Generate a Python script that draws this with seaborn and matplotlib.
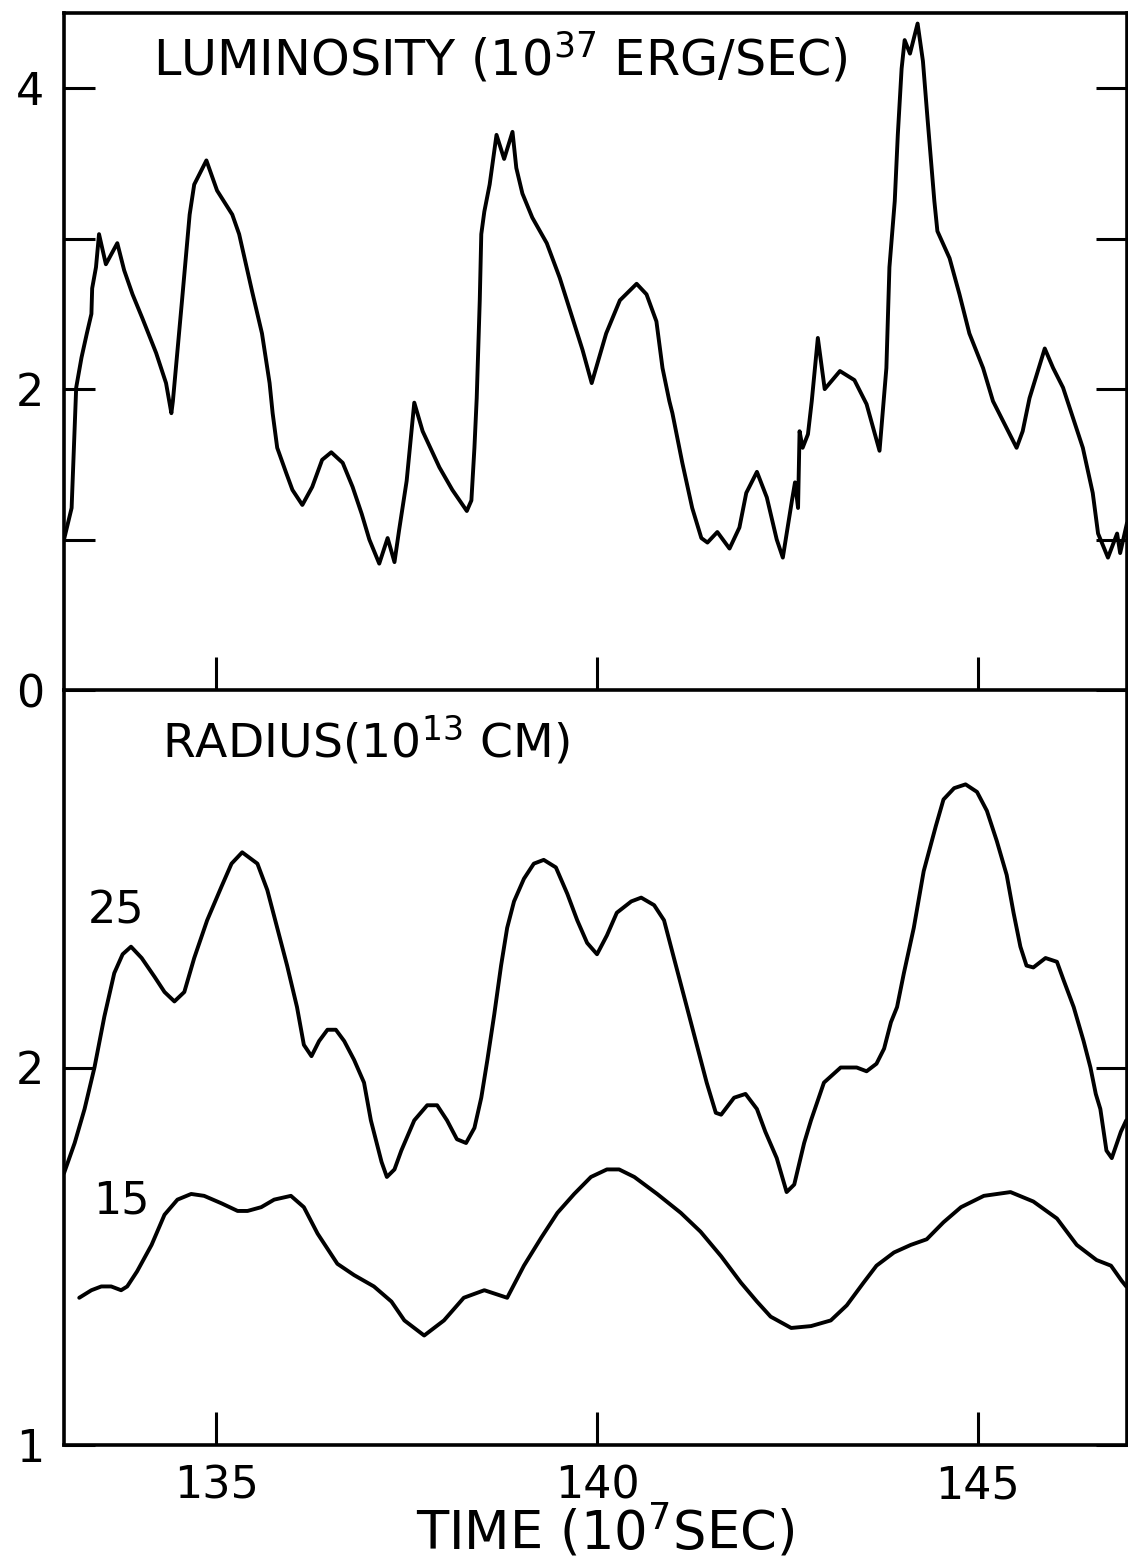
import matplotlib
matplotlib.use("Agg")
import matplotlib.pyplot as plt
import pandas as pd
import seaborn as sns

# Luminosity (10^37 erg/s) against time (10^7 s)
lum_points = [
    (133.00, 1.00), (133.10, 1.21), (133.16, 2.01), (133.23, 2.21), (133.30, 2.37),
    (133.36, 2.50), (133.37, 2.67), (133.42, 2.81), (133.46, 3.03), (133.55, 2.83),
    (133.70, 2.97), (133.79, 2.79), (133.90, 2.63), (134.03, 2.47), (134.21, 2.24),
    (134.34, 2.04), (134.41, 1.84), (134.43, 1.92), (134.55, 2.59), (134.65, 3.16),
    (134.71, 3.36), (134.87, 3.52), (135.01, 3.32), (135.21, 3.16), (135.30, 3.03),
    (135.47, 2.65), (135.60, 2.37), (135.70, 2.04), (135.74, 1.84), (135.80, 1.61),
    (135.92, 1.44), (136.00, 1.33), (136.13, 1.23), (136.26, 1.35), (136.39, 1.53),
    (136.51, 1.58), (136.66, 1.51), (136.79, 1.35), (136.91, 1.17), (137.01, 1.00),
    (137.14, 0.84), (137.25, 1.01), (137.34, 0.85), (137.40, 1.06), (137.50, 1.39),
    (137.60, 1.91), (137.71, 1.72), (137.93, 1.48), (138.10, 1.33), (138.29, 1.19),
    (138.35, 1.26), (138.39, 1.61), (138.42, 1.94), (138.46, 2.59), (138.48, 3.03),
    (138.52, 3.18), (138.59, 3.36), (138.68, 3.69), (138.78, 3.53), (138.89, 3.71),
    (138.94, 3.47), (139.02, 3.30), (139.15, 3.14), (139.34, 2.97), (139.51, 2.74),
    (139.66, 2.50), (139.81, 2.26), (139.93, 2.04), (140.12, 2.37), (140.30, 2.59),
    (140.52, 2.70), (140.65, 2.63), (140.78, 2.45), (140.86, 2.14), (140.95, 1.92),
    (140.99, 1.84), (141.12, 1.51), (141.25, 1.21), (141.37, 1.01), (141.45, 0.98),
    (141.58, 1.05), (141.74, 0.94), (141.87, 1.08), (141.96, 1.31), (142.10, 1.45),
    (142.23, 1.28), (142.36, 1.00), (142.44, 0.88), (142.56, 1.26), (142.60, 1.38),
    (142.64, 1.21), (142.66, 1.72), (142.70, 1.61), (142.77, 1.70), (142.82, 1.92),
    (142.90, 2.34), (142.99, 2.00), (143.19, 2.12), (143.38, 2.06), (143.54, 1.90),
    (143.71, 1.59), (143.80, 2.14), (143.84, 2.81), (143.91, 3.25), (143.95, 3.69),
    (144.00, 4.13), (144.04, 4.32), (144.11, 4.23), (144.21, 4.43), (144.28, 4.18),
    (144.34, 3.80), (144.43, 3.25), (144.47, 3.05), (144.63, 2.87), (144.76, 2.63),
    (144.89, 2.37), (145.07, 2.14), (145.20, 1.92), (145.33, 1.79), (145.51, 1.61),
    (145.59, 1.72), (145.68, 1.94), (145.88, 2.27), (145.99, 2.14), (146.12, 2.01),
    (146.38, 1.61), (146.51, 1.31), (146.58, 1.04), (146.71, 0.88), (146.83, 1.04),
    (146.87, 0.91), (146.96, 1.11),
]

# Radius (10^13 cm) of the zone labelled 25
r25_points = [
    (133.00, 1.72), (133.14, 1.80), (133.27, 1.89), (133.40, 2.00), (133.53, 2.135),
    (133.66, 2.25), (133.77, 2.30), (133.88, 2.32), (134.02, 2.29), (134.19, 2.24),
    (134.32, 2.20), (134.45, 2.175), (134.58, 2.20), (134.71, 2.29), (134.88, 2.39),
    (135.07, 2.48), (135.20, 2.54), (135.34, 2.57), (135.54, 2.54), (135.67, 2.47),
    (135.80, 2.37), (135.93, 2.27), (136.06, 2.16), (136.15, 2.06), (136.25, 2.03),
    (136.35, 2.07), (136.46, 2.10), (136.57, 2.10), (136.68, 2.07), (136.81, 2.02),
    (136.94, 1.96), (137.03, 1.86), (137.17, 1.75), (137.24, 1.71), (137.34, 1.73),
    (137.43, 1.78), (137.60, 1.86), (137.77, 1.90), (137.90, 1.90), (138.03, 1.86),
    (138.16, 1.81), (138.28, 1.80), (138.39, 1.84), (138.48, 1.92), (138.56, 2.02),
    (138.65, 2.14), (138.74, 2.27), (138.82, 2.37), (138.91, 2.44), (139.04, 2.50),
    (139.17, 2.54), (139.30, 2.55), (139.46, 2.53), (139.61, 2.46), (139.74, 2.39),
    (139.87, 2.33), (140.00, 2.30), (140.13, 2.35), (140.26, 2.41), (140.45, 2.44),
    (140.58, 2.45), (140.75, 2.43), (140.88, 2.39), (141.01, 2.29), (141.18, 2.16),
    (141.31, 2.06), (141.44, 1.96), (141.56, 1.88), (141.63, 1.875), (141.80, 1.92),
    (141.95, 1.93), (142.10, 1.89), (142.21, 1.83), (142.36, 1.76), (142.49, 1.67),
    (142.59, 1.69), (142.72, 1.80), (142.81, 1.86), (142.98, 1.96), (143.20, 2.00),
    (143.41, 2.00), (143.54, 1.99), (143.67, 2.01), (143.77, 2.05), (143.86, 2.12),
    (143.94, 2.16), (144.03, 2.25), (144.16, 2.37), (144.29, 2.52), (144.45, 2.64),
    (144.55, 2.71), (144.69, 2.74), (144.84, 2.75), (144.99, 2.73), (145.12, 2.68),
    (145.25, 2.60), (145.38, 2.51), (145.47, 2.41), (145.56, 2.32), (145.64, 2.27),
    (145.73, 2.265), (145.89, 2.29), (146.04, 2.28), (146.13, 2.23), (146.26, 2.16),
    (146.39, 2.07), (146.48, 2.00), (146.55, 1.93), (146.61, 1.89), (146.69, 1.78),
    (146.76, 1.76), (146.88, 1.83), (146.95, 1.86),
]

# Radius (10^13 cm) of the zone labelled 15
r15_points = [
    (133.20, 1.39), (133.36, 1.41), (133.49, 1.42), (133.62, 1.42), (133.75, 1.41),
    (133.83, 1.42), (133.96, 1.46), (134.15, 1.53), (134.32, 1.61), (134.49, 1.65),
    (134.67, 1.665), (134.84, 1.66), (135.07, 1.64), (135.28, 1.62), (135.41, 1.62),
    (135.59, 1.63), (135.76, 1.65), (135.98, 1.66), (136.15, 1.63), (136.33, 1.56),
    (136.59, 1.48), (136.81, 1.45), (137.07, 1.42), (137.30, 1.38), (137.47, 1.33),
    (137.73, 1.29), (137.99, 1.33), (138.25, 1.39), (138.52, 1.41), (138.82, 1.39),
    (139.04, 1.475), (139.27, 1.55), (139.48, 1.615), (139.70, 1.665), (139.92, 1.71),
    (140.13, 1.73), (140.29, 1.73), (140.49, 1.71), (140.79, 1.665), (141.10, 1.615),
    (141.36, 1.565), (141.63, 1.50), (141.89, 1.43), (142.10, 1.38), (142.28, 1.34),
    (142.55, 1.31), (142.81, 1.315), (143.07, 1.33), (143.28, 1.37), (143.50, 1.43),
    (143.67, 1.475), (143.90, 1.51), (144.12, 1.53), (144.33, 1.545), (144.55, 1.59),
    (144.78, 1.63), (145.08, 1.66), (145.43, 1.67), (145.73, 1.645), (146.04, 1.60),
    (146.30, 1.53), (146.56, 1.49), (146.75, 1.475), (146.89, 1.435), (146.95, 1.42),
]

time_ticks = [135, 140, 145]
time_tick_labels = ["135", "140", "145"]
lum_ticks = [0, 1, 2, 3, 4]
lum_tick_labels = ["0", "", "2", "", "4"]
rad_ticks = [1, 2]
rad_tick_labels = ["1", "2"]

sns.set_theme(style="ticks")
plt.rcParams["font.family"] = ["DejaVu Sans"]
plt.rcParams["mathtext.fontset"] = "dejavusans"
plt.rcParams["lines.solid_joinstyle"] = "round"
plt.rcParams["lines.solid_capstyle"] = "round"

W, H = 1128, 1567
fig = plt.figure(figsize=(W / 100, H / 100), dpi=100)
fig.patch.set_facecolor("white")


def box(x0, y0, x1, y1):
    return [x0 / W, 1 - y1 / H, (x1 - x0) / W, (y1 - y0) / H]


ax_lum = fig.add_axes(box(64, 13, 1127, 690))
ax_rad = fig.add_axes(box(64, 690, 1127, 1445), sharex=ax_lum)
ax_rad.patch.set_visible(False)

lum_df = pd.DataFrame(lum_points, columns=["time", "value"])
r25_df = pd.DataFrame(r25_points, columns=["time", "value"])
r15_df = pd.DataFrame(r15_points, columns=["time", "value"])

line_kw = dict(x="time", y="value", sort=False, estimator=None,
               color="black", linewidth=2.8)
sns.lineplot(data=lum_df, ax=ax_lum, **line_kw)
sns.lineplot(data=r25_df, ax=ax_rad, **line_kw)
sns.lineplot(data=r15_df, ax=ax_rad, **line_kw)

ax_lum.set_xlim(133.0, 146.96)
ax_lum.set_ylim(0, 4.5)
ax_rad.set_ylim(1, 3)

tick_font = 32
for ax in (ax_lum, ax_rad):
    ax.set_xlabel("")
    ax.set_ylabel("")
    for side in ("left", "right", "top", "bottom"):
        ax.spines[side].set_visible(True)
        ax.spines[side].set_color("black")
        ax.spines[side].set_linewidth(2.6)
    ax.tick_params(axis="y", which="major", direction="in", length=22,
                   width=2.2, color="black", labelcolor="black",
                   left=True, right=True, labelleft=True, labelright=False,
                   labelsize=tick_font, pad=14)
    ax.tick_params(axis="x", which="major", direction="in", length=24,
                   width=2.2, color="black", labelcolor="black",
                   bottom=True, top=False, labelsize=tick_font, pad=14)
    ax.minorticks_off()

ax_rad.spines["top"].set_visible(False)

ax_lum.set_yticks(lum_ticks)
ax_lum.set_yticklabels(lum_tick_labels)
ax_rad.set_yticks(rad_ticks)
ax_rad.set_yticklabels(rad_tick_labels)
ax_rad.set_xticks(time_ticks)
ax_rad.set_xticklabels(time_tick_labels)
ax_lum.tick_params(axis="x", labelbottom=False)

text_kw = dict(color="black", ha="left", va="baseline")
fig.text(153 / W, 1 - 75 / H, r"LUMINOSITY (10$^{37}$ ERG/SEC)",
         fontsize=35.5, **text_kw)
fig.text(162 / W, 1 - 757 / H, r"RADIUS(10$^{13}$ CM)", fontsize=34, **text_kw)
fig.text(416 / W, 1 - 1550 / H, r"TIME (10$^{7}$SEC)", fontsize=38, **text_kw)
fig.text(88 / W, 1 - 923 / H, "25", fontsize=tick_font, **text_kw)
fig.text(93 / W, 1 - 1214 / H, "15", fontsize=tick_font, **text_kw)

fig.savefig("out.png", dpi=100, facecolor="white")
